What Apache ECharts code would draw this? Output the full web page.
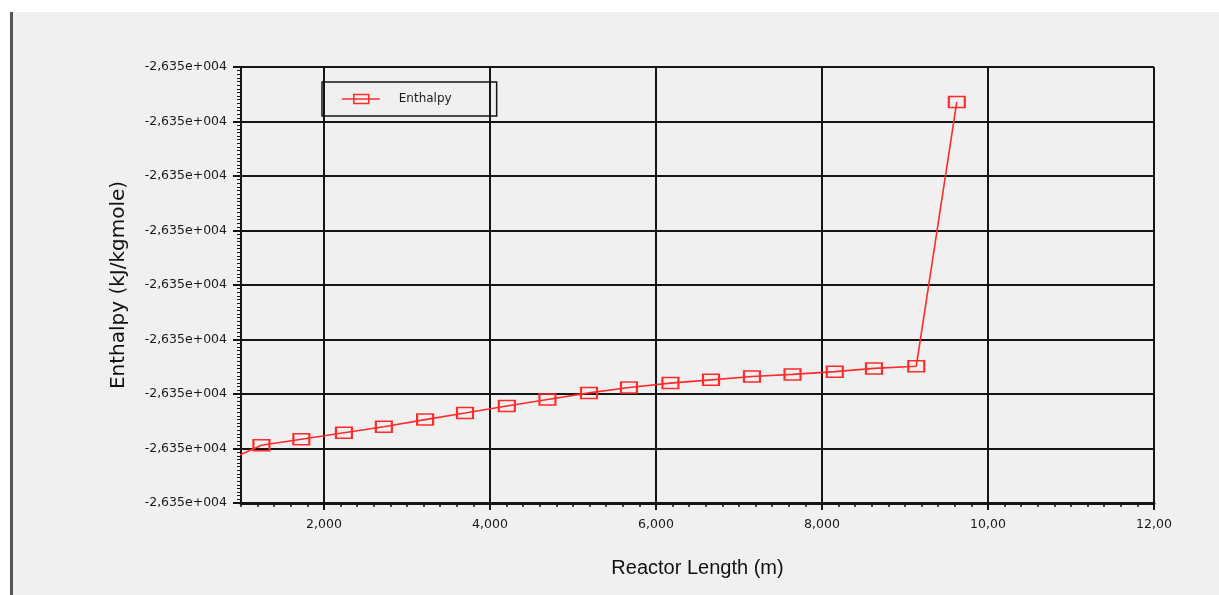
<!DOCTYPE html>
<html>
<head>
<meta charset="utf-8">
<script src="https://cdn.jsdelivr.net/npm/echarts@6/dist/echarts.min.js"></script>
<style>
html, body { margin: 0; padding: 0; background: #ffffff; width: 1219px; height: 595px; overflow: hidden; }
#frame { position: absolute; left: 10px; top: 12px; right: 0; bottom: 0; background: #f0f0f0; border-left: 3px solid #555555; }
#chart { position: absolute; left: 0; top: 0; width: 1219px; height: 595px; }
</style>
</head>
<body>
<div id="frame"></div>
<div id="chart"></div>
<script>
// ---- data ----
const seriesName = 'Enthalpy';
const lengthValues = [0.755, 1.246, 1.727, 2.240, 2.721, 3.218, 3.699, 4.203, 4.692, 5.193, 5.674, 6.174, 6.663, 7.156, 7.645, 8.154, 8.626, 9.136, 9.624];
const enthalpyValues = [-26353.28, -26352.94, -26352.83, -26352.71, -26352.60, -26352.47, -26352.35, -26352.22, -26352.10, -26351.98, -26351.88, -26351.80, -26351.74, -26351.68, -26351.64, -26351.59, -26351.53, -26351.49, -26346.64];
const xTickValues = [2, 4, 6, 8, 10, 12];
const xTickLabels = ['2,000', '4,000', '6,000', '8,000', '10,00', '12,00'];
const yTickLabels = ['-2,635e+004', '-2,635e+004', '-2,635e+004', '-2,635e+004', '-2,635e+004', '-2,635e+004', '-2,635e+004', '-2,635e+004', '-2,635e+004'];
const xName = 'Reactor Length (m)';
const yName = 'Enthalpy (kJ/kgmole)';

const points = lengthValues.map((x, i) => [x, enthalpyValues[i]]);
const RED = '#ff2b2b';
const INK = '#151515';

const chart = echarts.init(document.getElementById('chart'), null, { renderer: 'canvas' });
chart.setOption({
  animation: false,
  backgroundColor: 'transparent',
  grid: { left: 241, right: 65, top: 67, bottom: 92, containLabel: false },
  legend: {
    left: 322, top: 82,
    data: [{ name: seriesName, icon: 'path://M0,5L12,5M27,5L38,5M12,0.5L27,0.5L27,9.5L12,9.5ZM12,5L27,5' }],
    borderColor: INK, borderWidth: 1.5, borderRadius: 0,
    backgroundColor: 'transparent',
    padding: [11, 45, 11, 19],
    itemWidth: 38, itemHeight: 10,
    itemStyle: { color: 'rgba(0,0,0,0)', borderColor: RED, borderWidth: 1.5 },
    textStyle: { fontFamily: 'DejaVu Sans', fontSize: 12, color: '#1a1a1a', padding: [0, 0, 0, 14] }
  },
  xAxis: [
    {
      type: 'value', min: 1, max: 12, position: 'bottom',
      name: xName, nameLocation: 'middle', nameGap: 55,
      nameTextStyle: { fontFamily: 'Liberation Sans', fontSize: 20, color: '#111' },
      axisLine: { show: true, lineStyle: { color: INK, width: 3 } },
      axisTick: { show: true, customValues: xTickValues, length: 7, lineStyle: { color: INK, width: 2 } },
      axisLabel: {
        customValues: xTickValues, margin: 15,
        fontFamily: 'DejaVu Sans', fontSize: 12.5, color: '#1a1a1a',
        formatter: function (v) { const i = xTickValues.indexOf(v); return i >= 0 ? xTickLabels[i] : ''; }
      },
      splitLine: { show: true, lineStyle: { color: INK, width: 2 } }
    },
    {
      type: 'value', min: 1, max: 12, interval: 0.2, position: 'bottom',
      axisLine: { show: false },
      axisTick: { show: true, length: 4, lineStyle: { color: INK, width: 1.5 } },
      axisLabel: { show: false },
      splitLine: { show: false }
    }
  ],
  yAxis: {
    type: 'value', min: -26354, max: -26346, interval: 1,
    name: yName, nameLocation: 'middle', nameGap: 112, nameRotate: 90,
    nameTextStyle: { fontFamily: 'DejaVu Sans', fontSize: 20, color: '#111' },
    axisLine: { show: true, lineStyle: { color: INK, width: 2 } },
    axisTick: { show: true, length: 8, lineStyle: { color: INK, width: 2 } },
    minorTick: { show: true, splitNumber: 15, length: 4, lineStyle: { color: INK, width: 1 } },
    axisLabel: {
      margin: 14, fontFamily: 'DejaVu Sans', fontSize: 12.5, color: '#1a1a1a',
      formatter: function (v, i) { return yTickLabels[i] !== undefined ? yTickLabels[i] : ''; }
    },
    splitLine: { show: true, lineStyle: { color: INK, width: 2 } }
  },
  series: [{
    name: seriesName, type: 'line', xAxisIndex: 0, data: points,
    clip: true, z: 5,
    symbol: 'rect', symbolSize: [16, 11], showSymbol: true,
    itemStyle: { color: 'rgba(0,0,0,0)', borderColor: RED, borderWidth: 1.8 },
    lineStyle: { color: RED, width: 1.6 },
    emphasis: { disabled: true }
  }]
});
</script>
</body>
</html>
